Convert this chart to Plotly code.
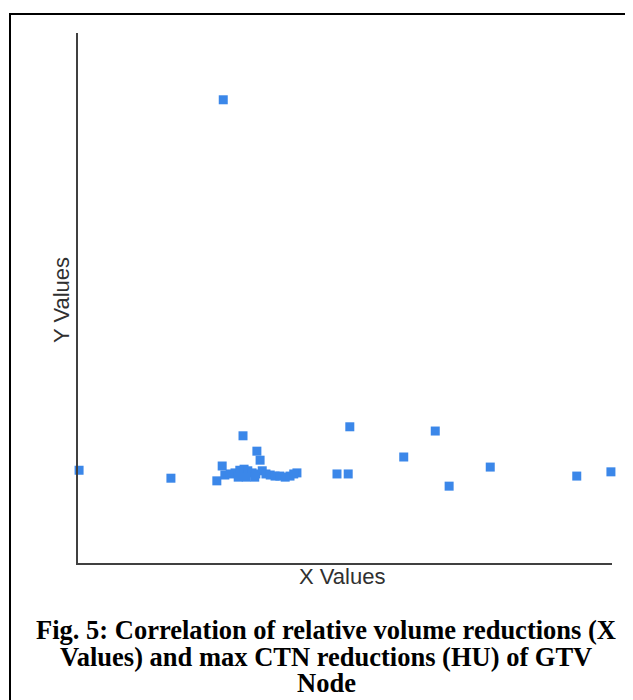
import plotly.graph_objects as go

# Relative volume reduction (X) and max CTN reduction (Y) (arbitrary units)
x_values = [0.2, 17.4, 26.0, 27.0, 30.9, 33.5, 34.1, 41.0, 48.5, 50.6, 50.9, 61.0,
            66.9, 69.5, 77.2, 93.4, 99.8, 27.2,
            27.5, 28.5, 29.4, 30.3, 31.1, 31.8, 32.6, 33.3, 34.5, 35.2, 36.0, 36.9,
            37.8, 38.8, 39.7, 30.0, 31.5, 33.1, 40.4]
y_values = [17.5, 16.0, 15.5, 18.3, 24.0, 21.1, 19.4, 17.0, 16.8, 16.8, 25.7, 20.0,
            24.9, 14.5, 18.1, 16.4, 17.2, 87.4,
            16.6, 16.8, 17.0, 17.5, 17.7, 17.4, 17.0, 16.8, 17.4, 16.8, 16.6, 16.4,
            16.4, 16.2, 16.4, 16.2, 16.2, 16.2, 16.8]

x_title = "X Values"
y_title = "Y Values"
caption_lines = [
    "Fig. 5: Correlation of relative volume reductions (X",
    "Values) and max CTN reductions (HU) of GTV",
    "Node",
]

fig = go.Figure()
fig.add_trace(go.Scatter(
    x=x_values, y=y_values, mode="markers",
    marker=dict(symbol="square", size=9, color="#3b87e9", line=dict(width=0)),
    cliponaxis=False, hoverinfo="skip",
))

OFF = 8  # page body margin
W, H = 633, 700
L, R, T, B = 78 - OFF, 612 - OFF, 33 - OFF, 563 - OFF
pw, ph = R - L, B - T

def px(xs):
    return (xs - OFF - L) / pw

def py(ys):
    return (B - (ys - OFF)) / ph

annotations = [
    dict(text=x_title, x=px(342), y=py(576), xref="paper", yref="paper",
         showarrow=False, xanchor="center", yanchor="middle",
         font=dict(family="Liberation Sans, Arial", size=22, color="#303030")),
    dict(text=y_title, x=px(61), y=py(300), xref="paper", yref="paper",
         showarrow=False, xanchor="center", yanchor="middle", textangle=-90,
         font=dict(family="Liberation Sans, Arial", size=22, color="#303030")),
]
caption_y = [630, 657, 683]
for line, yc in zip(caption_lines, caption_y):
    annotations.append(dict(
        text="<b>%s</b>" % line, x=px(326), y=py(yc),
        xref="paper", yref="paper", showarrow=False,
        xanchor="center", yanchor="middle",
        font=dict(family="Liberation Serif, Times New Roman", size=26.5, color="#000000")))

shapes = [
    dict(type="line", xref="paper", yref="paper", x0=px(10), x1=px(10),
         y0=py(13), y1=py(710), line=dict(color="black", width=2)),
    dict(type="line", xref="paper", yref="paper", x0=px(9), x1=px(640),
         y0=py(14), y1=py(14), line=dict(color="black", width=2)),
]

fig.update_layout(
    width=W, height=H,
    margin=dict(l=L, r=W - R, t=T, b=H - B),
    paper_bgcolor="white", plot_bgcolor="white",
    showlegend=False,
    xaxis=dict(range=[0, 100], showgrid=False, zeroline=False, showticklabels=False,
               ticks="", showline=True, linecolor="#404040", linewidth=2),
    yaxis=dict(range=[0, 100], showgrid=False, zeroline=False, showticklabels=False,
               ticks="", showline=True, linecolor="#404040", linewidth=2),
    annotations=annotations, shapes=shapes,
)

fig.write_html("out.html")
